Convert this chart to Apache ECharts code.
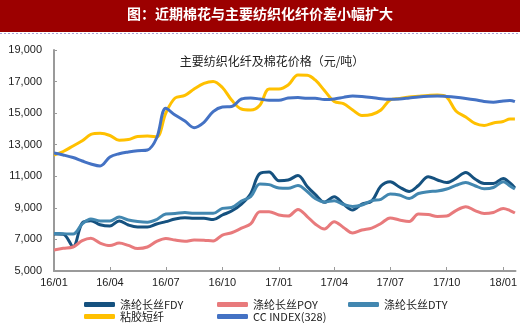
<!DOCTYPE html>
<html>
<head>
<meta charset="utf-8">
<script src="https://cdn.jsdelivr.net/npm/echarts@6/dist/echarts.min.js"></script>
<style>
  html, body { margin: 0; padding: 0; background: #ffffff; }
  #chart { width: 520px; height: 323px; }
</style>
</head>
<body>
<div id="chart"></div>
<script>
// Semi-monthly sampling dates
const dates = [
  '2016-01-01','2016-01-16','2016-02-01','2016-02-16','2016-03-01','2016-03-16',
  '2016-04-01','2016-04-16','2016-05-01','2016-05-16','2016-06-01','2016-06-16',
  '2016-07-01','2016-07-16','2016-08-01','2016-08-16','2016-09-01','2016-09-16',
  '2016-10-01','2016-10-16','2016-11-01','2016-11-16','2016-12-01','2016-12-16',
  '2017-01-01','2017-01-16','2017-02-01','2017-02-16','2017-03-01','2017-03-16',
  '2017-04-01','2017-04-16','2017-05-01','2017-05-16','2017-06-01','2017-06-16',
  '2017-07-01','2017-07-16','2017-08-01','2017-08-16','2017-09-01','2017-09-16',
  '2017-10-01','2017-10-16','2017-11-01','2017-11-16','2017-12-01','2017-12-16',
  '2018-01-01','2018-01-12','2018-01-20'
];

// Prices, yuan per tonne
const fdy = [
  7340, 7330, 6550, 8050, 8190, 7930, 7850, 8170, 7915, 7790, 7790, 7980,
  8125, 8290, 8370, 8335, 8335, 8260, 8547, 8800, 9240, 9900, 11180, 11270,
  10720, 10760, 11050, 10350, 9850, 9350, 9710, 9240, 8864, 9240, 9430, 10380,
  10650, 10320, 10040, 10420, 10975, 10765, 10600, 10870, 11240, 10830, 10540, 10540,
  10860, 10575, 10260
];
const poy = [
  6330, 6435, 6520, 6920, 7070, 6770, 6610, 6770, 6620, 6420, 6520, 6870,
  7060, 6960, 6880, 6964, 6950, 6900, 7280, 7425, 7710, 7980, 8757, 8757,
  8547, 8480, 8900, 8450, 7980, 7660, 8125, 7760, 7410, 7597, 7720, 8010,
  8360, 8230, 8135, 8610, 8580, 8450, 8480, 8830, 9075, 8830, 8640, 8710,
  8960, 8830, 8675
];
const dty = [
  7380, 7360, 7340, 7980, 8295, 8170, 8170, 8420, 8230, 8135, 8090, 8260,
  8610, 8640, 8705, 8655, 8655, 8655, 8970, 9020, 9430, 9710, 10510, 10470,
  10260, 10240, 10420, 10040, 9590, 9370, 9450, 9210, 9085, 9180, 9460, 9540,
  9880, 9815, 9590, 9910, 10025, 10070, 10195, 10420, 10600, 10400, 10210, 10290,
  10650, 10385, 10195
];
const viscose = [
  12350, 12570, 12920, 13250, 13650, 13720, 13585, 13280, 13330, 13520, 13550, 13500,
  15010, 15960, 16120, 16530, 16880, 17000, 16625, 15830, 15260, 15200, 15500, 16530,
  16530, 16780, 17416, 17400, 17100, 16435, 15740, 15605, 15200, 14850, 14915, 15199,
  15833, 15930, 16020, 16070, 16120, 16150, 16020, 15136, 14755, 14345, 14220, 14375,
  14470, 14630, 14630
];
const ccIndex = [
  12475, 12350, 12190, 11970, 11780, 11650, 12220, 12430, 12540, 12620, 12665, 13425,
  15305, 14880, 14500, 14080, 14420, 15100, 15390, 15420, 15895, 15960, 15895, 15812,
  15812, 15960, 15990, 15940, 15940, 15865, 15900, 16000, 16086, 16055, 15990, 15910,
  15875, 15900, 15960, 16020, 16065, 16086, 16055, 16004, 15930, 15845, 15740, 15690,
  15770, 15800, 15727
];

const seriesNames = ['涤纶长丝FDY', '涤纶长丝POY', '涤纶长丝DTY', '粘胶短纤', 'CC INDEX(328)'];
const seriesColors = ['#15517f', '#e87a7c', '#4287b0', '#ffc000', '#4472c4'];

// Quarterly x-axis ticks
const tickDates = ['2016-01-01','2016-04-01','2016-07-01','2016-10-01','2017-01-01',
                   '2017-04-01','2017-07-01','2017-10-01','2018-01-01'];
const tickLabels = ['16/01','16/04','16/07','16/10','17/01','17/04','17/07','17/10','18/01'];

const titleText = '图：近期棉花与主要纺织化纤价差小幅扩大';
const subtitleText = '主要纺织化纤及棉花价格（元/吨）';

// Dates are placed on a numeric (day-count) axis so that quarter ticks can be pinned
const DAY = 86400000;
const BASE = Date.UTC(2016, 0, 1);
const toDay = d => {
  const p = d.split('-').map(Number);
  return (Date.UTC(p[0], p[1] - 1, p[2]) - BASE) / DAY;
};
const tickValues = tickDates.map(toDay);
const allValues = [fdy, poy, dty, viscose, ccIndex];

const chart = echarts.init(document.getElementById('chart'), null, { renderer: 'canvas' });

const legendSlots = [
  { left: 84, top: 299 }, { left: 217, top: 299 }, { left: 348, top: 299 },
  { left: 84, top: 311 }, { left: 217, top: 311 }
];

chart.setOption({
  backgroundColor: '#ffffff',
  animation: false,
  textStyle: { fontFamily: '"Liberation Sans", Arial, "Noto Sans CJK SC", sans-serif' },
  title: [{
    text: subtitleText,
    left: 267, top: 50, textAlign: 'center',
    textStyle: { fontSize: 12, fontWeight: 'normal', color: '#222222',
      fontFamily: '"Noto Sans CJK SC", sans-serif' }
  }],
  graphic: [
    { type: 'rect', left: 0, top: 0, shape: { width: 520, height: 32 },
      style: { fill: '#9c0000' }, silent: true },
    { type: 'text', left: 'center', top: 7,
      style: { text: titleText, fill: '#ffffff', font: 'bold 14px "Noto Sans CJK SC", sans-serif' },
      silent: true },
    { type: 'line', shape: { x1: 0, y1: 33.5, x2: 520, y2: 33.5 },
      style: { stroke: '#a7a7d8', lineWidth: 1, lineDash: [2, 2] }, silent: true }
  ],
  legend: seriesNames.map((name, i) => ({
    data: [name],
    left: legendSlots[i].left, top: legendSlots[i].top,
    icon: 'roundRect', itemWidth: 31, itemHeight: 5, itemGap: 4,
    textStyle: { fontSize: 11, color: '#222222',
      fontFamily: '"Noto Sans CJK SC", sans-serif' },
    padding: 0
  })),
  grid: { left: 54, right: 4, top: 50, bottom: 52, containLabel: false },
  xAxis: {
    type: 'value',
    min: 0,
    max: toDay('2018-01-21'),
    axisLine: { show: true, lineStyle: { color: '#9a9a9a', width: 2 } },
    axisTick: { show: true, inside: true, length: 4, customValues: tickValues,
      lineStyle: { color: '#9a9a9a', width: 1 } },
    axisLabel: {
      customValues: tickValues,
      fontSize: 11, color: '#222222', margin: 6,
      formatter: function (v) {
        let best = 0;
        for (let i = 1; i < tickValues.length; i++) {
          if (Math.abs(tickValues[i] - v) < Math.abs(tickValues[best] - v)) best = i;
        }
        return tickLabels[best];
      }
    },
    splitLine: { show: false }
  },
  yAxis: {
    type: 'value',
    min: 5000, max: 19000, interval: 2000,
    axisLine: { show: true, lineStyle: { color: '#9a9a9a', width: 2 } },
    axisTick: { show: true, inside: true, length: 3, lineStyle: { color: '#9a9a9a', width: 1 } },
    axisLabel: {
      fontSize: 11, color: '#222222', margin: 12,
      formatter: v => v.toLocaleString('en-US')
    },
    splitLine: { show: false }
  },
  series: seriesNames.map((name, i) => ({
    name: name,
    type: 'line',
    data: dates.map((d, j) => [toDay(d), allValues[i][j]]),
    smooth: 0.35,
    showSymbol: false,
    symbol: 'none',
    lineStyle: { width: 3, color: seriesColors[i] },
    itemStyle: { color: seriesColors[i] }
  }))
});
</script>
</body>
</html>
